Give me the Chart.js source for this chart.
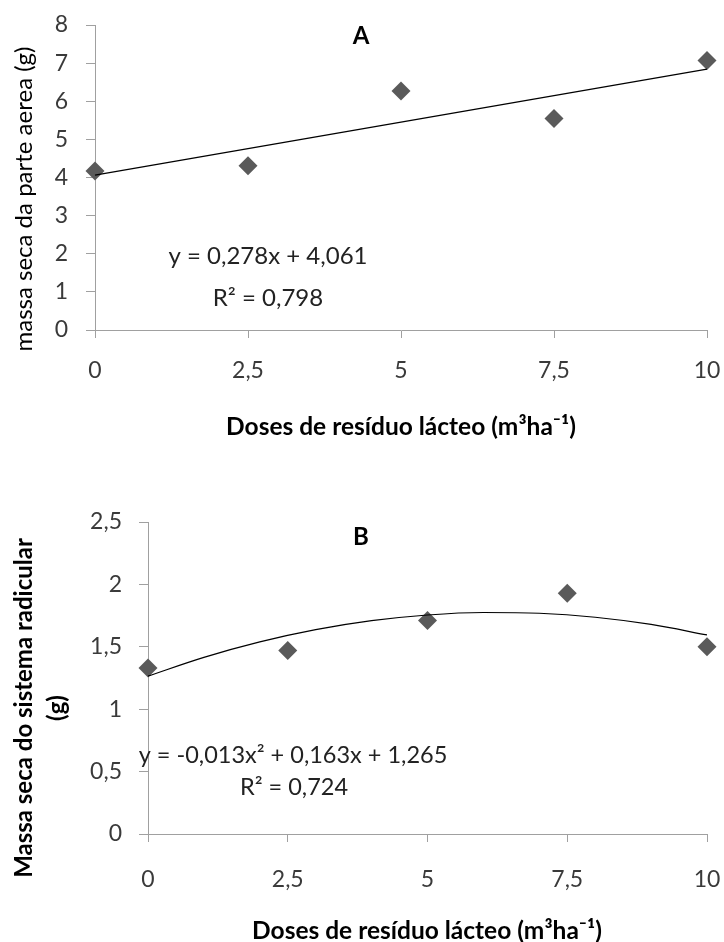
<!DOCTYPE html>
<html><head><meta charset="utf-8">
<script src="https://cdn.jsdelivr.net/npm/chart.js@4"></script>
<style>
body{margin:0;background:#fff;width:724px;height:942px;overflow:hidden;position:relative}
canvas{position:absolute;left:0}
#ca{top:0}
#cb{top:440px}
</style></head><body>
<canvas id="ca" width="724" height="440"></canvas>
<canvas id="cb" width="724" height="502"></canvas>
<script>
// ---- data ----
const doses = [0, 2.5, 5, 7.5, 10];
const xTickLabels = ['0', '2,5', '5', '7,5', '10'];
const massaParteAerea = [4.17, 4.31, 6.27, 5.55, 7.07];
const trendAX = [0, 10];
const trendAY = [4.061, 6.841];
const yTickLabelsA = ['0', '1', '2', '3', '4', '5', '6', '7', '8'];
const massaRadicular = [1.33, 1.47, 1.71, 1.93, 1.50];
const trendBX = [0, 1, 2, 3, 4, 5, 6, 7, 8, 9, 10];
const trendBY = [1.265, 1.415, 1.539, 1.637, 1.709, 1.755, 1.775, 1.769, 1.737, 1.679, 1.595];
const yTickLabelsB = ['0', '0,5', '1', '1,5', '2', '2,5'];
const xTitle = 'Doses de resíduo lácteo (m³ha⁻¹)';

Chart.defaults.font.family = 'Lato';
const AXIS = '#a0a0a0', MARK = '#5a5a5a', TICK = '#3a3a3a';

function pts(xs, ys) { return xs.map((x, i) => ({x: x, y: ys[i]})); }

function textPlugin(items) {
  return {
    id: 'texts',
    afterDraw(chart) {
      const ctx = chart.ctx;
      items.forEach(t => {
        ctx.save();
        ctx.font = (t.bold ? 'bold ' : '') + t.size + 'px Lato';
        ctx.fillStyle = t.color || '#000';
        ctx.textAlign = 'center';
        ctx.textBaseline = 'middle';
        ctx.translate(t.x, t.y);
        if (t.rot) ctx.rotate(-Math.PI / 2);
        ctx.fillText(t.text, 0, 0);
        ctx.restore();
      });
    }
  };
}

function noPad(s) { s.paddingLeft = 0; s.paddingRight = 0; s.paddingTop = 0; s.paddingBottom = 0; }

function makeChart(id, cfg) {
  return new Chart(document.getElementById(id), {
    type: 'scatter',
    data: {
      datasets: [
        { data: cfg.trend, showLine: true, borderColor: '#000', borderWidth: 1.2,
          pointRadius: 0, cubicInterpolationMode: cfg.curve ? 'monotone' : 'default', clip: false },
        { data: cfg.points, pointStyle: 'rectRot', pointRadius: 9.5, backgroundColor: MARK,
          borderColor: MARK, borderWidth: 0, showLine: false, clip: false }
      ]
    },
    options: {
      responsive: false, animation: false, devicePixelRatio: 1,
      layout: { autoPadding: false, padding: { top: cfg.top, right: 17, left: 0, bottom: 0 } },
      plugins: { legend: { display: false }, tooltip: { enabled: false } },
      scales: {
        x: {
          type: 'linear', min: 0, max: 10,
          ticks: { stepSize: 2.5, padding: cfg.xPad, color: TICK, font: { size: 23 },
            callback: v => { const i = doses.indexOf(v); return i >= 0 ? xTickLabels[i] : ''; } },
          grid: { drawOnChartArea: false, drawTicks: true, tickLength: 8, color: AXIS },
          border: { color: AXIS, width: 1 },
          afterFit: s => { s.height = cfg.xH; noPad(s); }
        },
        y: {
          type: 'linear', min: 0, max: cfg.yMax,
          ticks: { stepSize: cfg.yStep, padding: cfg.yPad, color: TICK, font: { size: 23 },
            callback: v => cfg.yLabels[Math.round(v / cfg.yStep)] },
          grid: { drawOnChartArea: false, drawTicks: true, tickLength: 9, color: AXIS },
          border: { color: AXIS, width: 1 },
          afterFit: s => { s.width = cfg.yW; noPad(s); }
        }
      }
    },
    plugins: [textPlugin(cfg.texts)]
  });
}

makeChart('ca', {
  points: pts(doses, massaParteAerea), trend: pts(trendAX, trendAY), curve: false,
  top: 25, xH: 110, yW: 95, yMax: 8, yStep: 1, yLabels: yTickLabelsA, yPad: 18, xPad: 19,
  texts: [
    { text: 'A', x: 361, y: 36, size: 24, bold: true },
    { text: 'y = 0,278x + 4,061', x: 268, y: 256, size: 24, color: '#222' },
    { text: 'R² = 0,798', x: 268, y: 298, size: 24, color: '#222' },
    { text: 'massa seca da parte aerea (g)', x: 24, y: 199, size: 24, rot: true },
    { text: xTitle, x: 401, y: 427, size: 24.5, bold: true }
  ]
});

makeChart('cb', {
  points: pts(doses, massaRadicular), trend: pts(trendBX, trendBY), curve: true,
  top: 82, xH: 108, yW: 148, yMax: 2.5, yStep: 0.5, yLabels: yTickLabelsB, yPad: 17, xPad: 24,
  texts: [
    { text: 'B', x: 361, y: 97, size: 24, bold: true },
    { text: 'y = -0,013x² + 0,163x + 1,265', x: 293, y: 315, size: 23.5, color: '#222' },
    { text: 'R² = 0,724', x: 294, y: 347, size: 23.5, color: '#222' },
    { text: 'Massa seca do sistema radicular', x: 24, y: 268, size: 24, bold: true, rot: true },
    { text: '(g)', x: 57, y: 268, size: 24, bold: true, rot: true },
    { text: xTitle, x: 427, y: 491, size: 24.5, bold: true }
  ]
});
</script>
</body></html>
